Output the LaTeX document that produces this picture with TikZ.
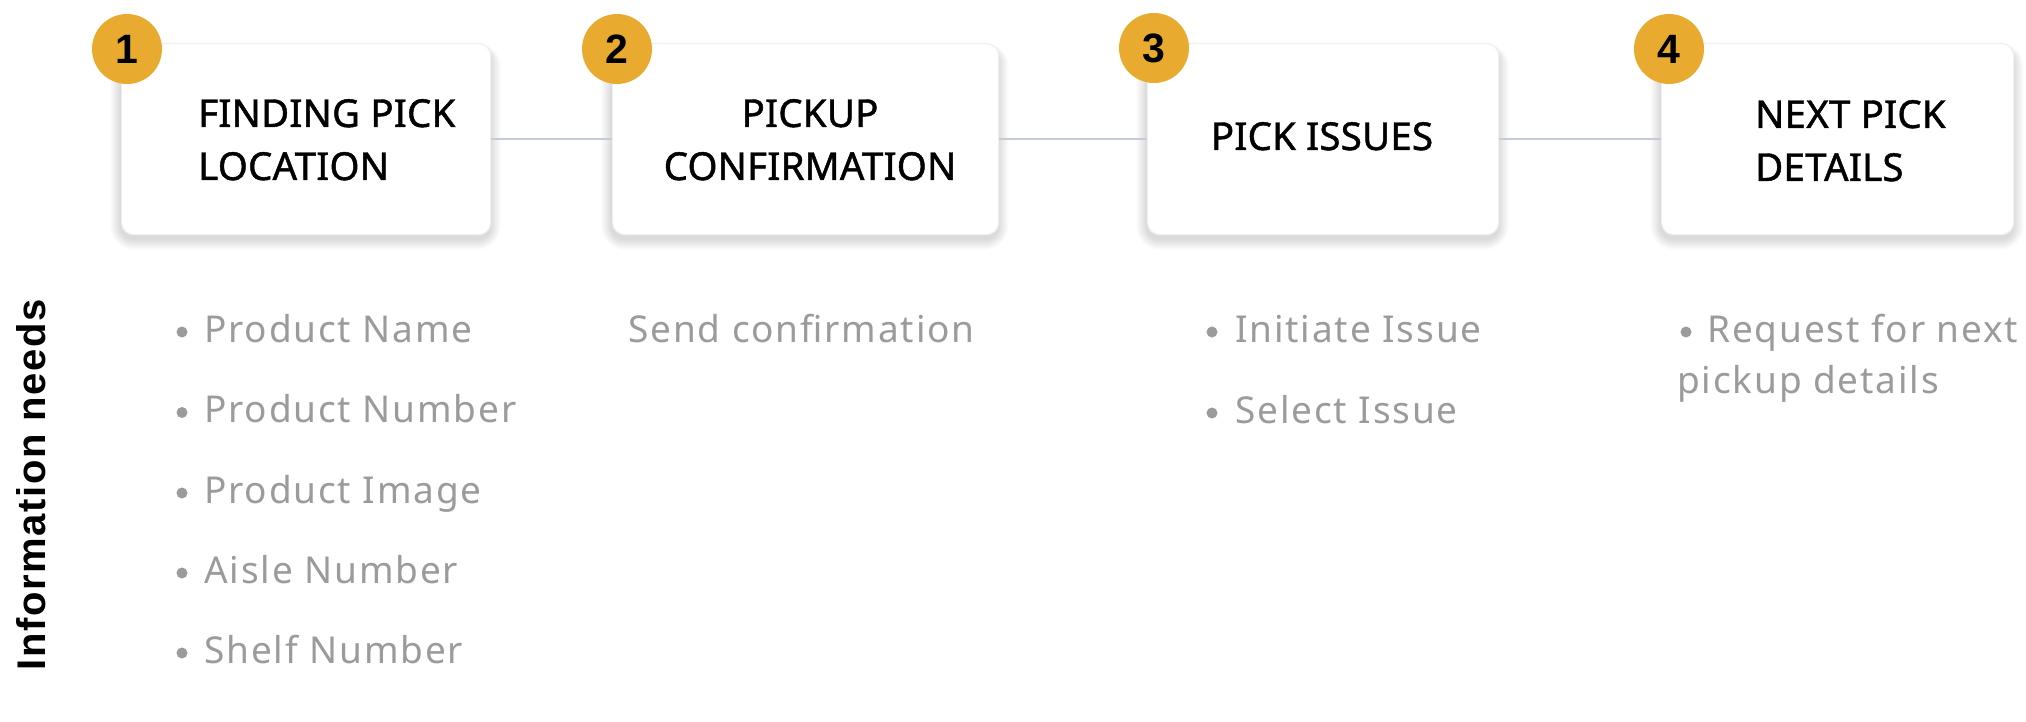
\documentclass[tikz,border=0pt]{standalone}
\usepackage{fontspec}
\setmainfont{Noto Sans}
\newfontfamily\sidebold{Liberation Sans}[LetterSpace=4]
\newfontfamily\digitbold{Liberation Sans}
\newfontfamily\titlefont{Noto Sans}[FakeBold=1.2, LetterSpace=0.5]
\newfontfamily\itemfont{Noto Sans}[LetterSpace=5]
\definecolor{badgecol}{HTML}{E9AB2F}
\definecolor{listgray}{HTML}{9B9B9B}
\definecolor{conncol}{HTML}{C3CBD9}
\definecolor{boxedge}{HTML}{F0F0F0}
\begin{document}
\begin{tikzpicture}[x=1pt,y=-1pt,
  stepbox/.style={draw=boxedge, line width=1.2pt, fill=white, rounded corners=12pt,
    inner sep=0pt, anchor=north west, minimum height=191pt},
  badgec/.style={circle, fill=badgecol, minimum size=70pt, inner sep=0pt,
    font=\digitbold\bfseries\fontsize{41}{41}\selectfont, text=black},
  titletext/.style={inner sep=0pt, text=black, font=\titlefont\fontsize{38.5}{47}\selectfont},
  itemtext/.style={inner sep=0pt, text=listgray, anchor=base west, font=\itemfont\fontsize{37}{45}\selectfont},
  bulletdot/.style={circle, fill=listgray, minimum size=11pt, inner sep=0pt},
  connector/.style={draw=conncol, line width=2pt},
  shadowlayer/.style={fill=black, fill opacity=0.010, draw=none}
]
\useasboundingbox[fill=white] (0,0) rectangle (2026,722);

% soft shadows under boxes
\foreach \xa/\xb in {121/490, 612/998, 1147/1498, 1661/2013}{
  \foreach \k in {1,...,12}{
    \fill[shadowlayer, rounded corners=12pt+\k pt]
      (\xa-\k*0.9, 43+6-\k*0.5) rectangle (\xb+\k*0.9, 234+5+\k*0.9);
  }
}

% boxes
\node[stepbox, minimum width=369pt] (b1) at (121,43) {};
\node[stepbox, minimum width=386pt] (b2) at (612,43) {};
\node[stepbox, minimum width=351pt] (b3) at (1147,43) {};
\node[stepbox, minimum width=352pt] (b4) at (1661,43) {};

% connectors
\draw[connector] (b1.east) -- (b2.west);
\draw[connector] (b2.east) -- (b3.west);
\draw[connector] (b3.east) -- (b4.west);

% badges
\node[badgec] (n1) at (127,49) {1};
\node[badgec] (n2) at (617,49) {2};
\node[badgec] (n3) at (1154,48) {3};
\node[badgec] (n4) at (1669,49) {4};

% titles
\node[titletext, anchor=base west] (t1a) at (198,127) {FINDING PICK};
\node[titletext, anchor=base west] (t1b) at (198,180) {LOCATION};
\node[titletext, anchor=base] (t2a) at (810,127) {PICKUP};
\node[titletext, anchor=base] (t2b) at (810,180) {CONFIRMATION};
\node[titletext, anchor=base] (t3a) at (1322,150) {PICK ISSUES};
\node[titletext, anchor=base west] (t4a) at (1755,128) {NEXT PICK};
\node[titletext, anchor=base west] (t4b) at (1755,181) {DETAILS};

% side label
\node[rotate=90, anchor=base, inner sep=0pt, text=black,
  font=\sidebold\bfseries\fontsize{40}{40}\selectfont] (info) at (45,485) {Information needs};

% column 1
\node[bulletdot] (d11) at (182,332) {};
\node[itemtext] (i11) at (204,342) {Product Name};
\node[bulletdot] (d12) at (182,412.5) {};
\node[itemtext] (i12) at (204,422.5) {Product Number};
\node[bulletdot] (d13) at (182,493) {};
\node[itemtext] (i13) at (204,503) {Product Image};
\node[bulletdot] (d14) at (182,573) {};
\node[itemtext] (i14) at (204,583) {Aisle Number};
\node[bulletdot] (d15) at (182,653) {};
\node[itemtext] (i15) at (204,663) {Shelf Number};

% column 2
\node[itemtext] (i21) at (628,342) {Send confirmation};

% column 3
\node[bulletdot] (d31) at (1212,332) {};
\node[itemtext] (i31) at (1235,342) {Initiate Issue};
\node[bulletdot] (d32) at (1212,413) {};
\node[itemtext] (i32) at (1235,423) {Select Issue};

% column 4
\node[bulletdot] (d41) at (1686,332) {};
\node[itemtext] (i41) at (1707,342) {Request for next};
\node[itemtext] (i42) at (1677,393) {pickup details};
\end{tikzpicture}
\end{document}
